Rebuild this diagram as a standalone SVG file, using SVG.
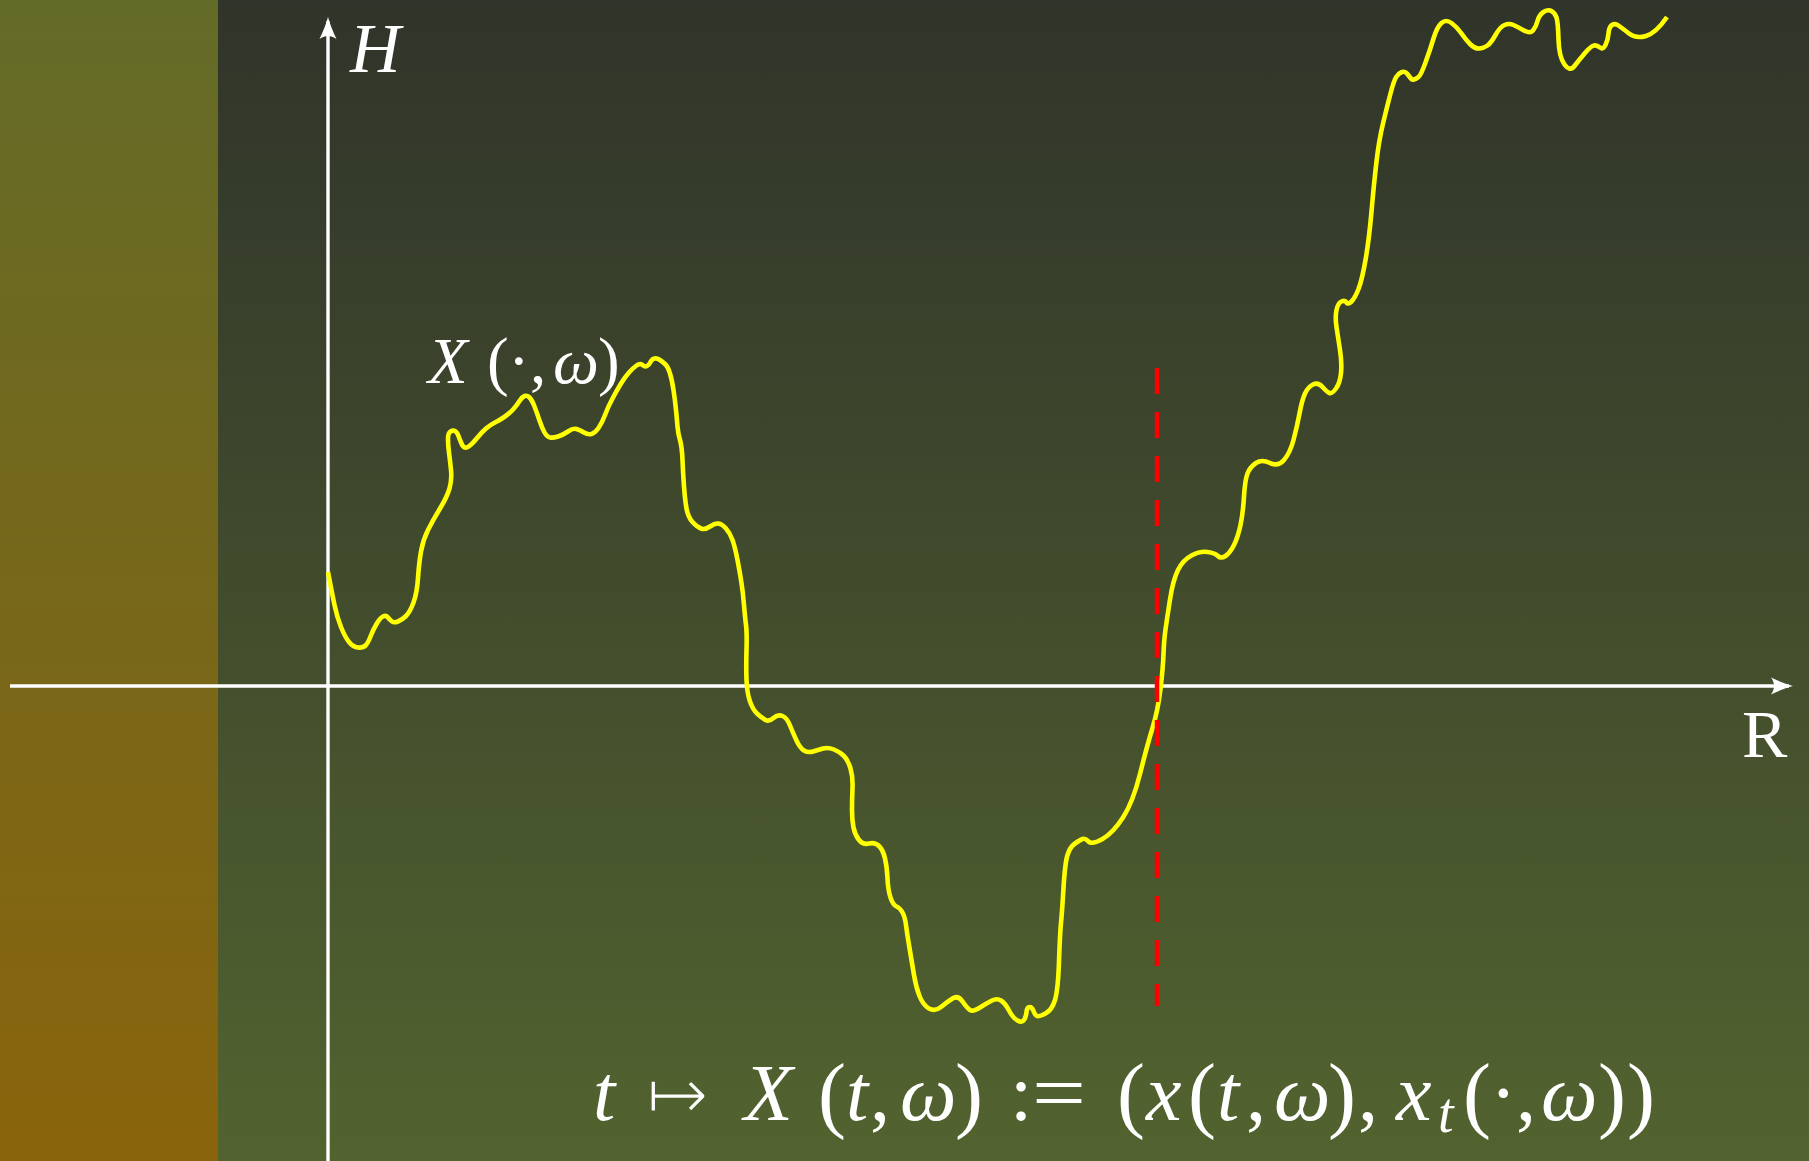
<svg xmlns="http://www.w3.org/2000/svg" width="1809" height="1161" viewBox="0 0 1809 1161">
<style>
.m{font-family:"Liberation Serif","DejaVu Serif",serif;fill:#ffffff}
.i{font-style:italic}
.ax{stroke:#ffffff;stroke-width:3.4;fill:none}
</style>
<defs>
<linearGradient id="bgMain" x1="0" y1="0" x2="0" y2="1">
<stop offset="0" stop-color="#30342a"/>
<stop offset="1" stop-color="#52632f"/>
</linearGradient>
<linearGradient id="bgBand" x1="0" y1="0" x2="0" y2="1">
<stop offset="0" stop-color="#636b28"/>
<stop offset="1" stop-color="#8a640c"/>
</linearGradient>
<marker id="arrow" markerUnits="userSpaceOnUse" viewBox="-24 -10 28 20" markerWidth="28" markerHeight="20" refX="-4" refY="0" orient="auto">
<path d="M0,0 C-7,-2 -15,-5 -22,-8.5 C-18,-3 -18,3 -22,8.5 C-15,5 -7,2 0,0 Z" fill="#ffffff"/>
</marker>
</defs>
<g id="background">
<rect x="0" y="0" width="1809" height="1161" fill="url(#bgMain)"/>
<rect x="0" y="0" width="218" height="1161" fill="url(#bgBand)"/>
</g>
<g id="axes">
<line class="ax" x1="10" y1="686" x2="1789" y2="686" marker-end="url(#arrow)"/>
<line class="ax" x1="328" y1="1161" x2="328" y2="21" marker-end="url(#arrow)"/>
</g>
<g id="path-curve">
<path fill="none" stroke="#ffff00" stroke-width="4.6" stroke-linejoin="round" stroke-linecap="butt" d="M328,572 L330,582.5 Q332,593 334.5,605 Q337,617 341,627 Q345,637 349,642 Q353,647 358,647.5 Q363,648 365.5,645.5 Q368,643 370.5,636.5 Q373,630 376.5,624 Q380,618 383,616.5 Q386,615 388,617.5 Q390,620 392,621.5 Q394,623 398,621.5 Q402,620 406,616 Q410,612 413.5,602.5 Q417,593 418,578 Q419,563 421,551.5 Q423,540 428,530 Q433,520 440,508.5 Q447,497 449.5,488.5 Q452,480 451,470 Q450,460 449,452.5 Q448,445 448,439 Q448,433 450.5,431.5 Q453,430 455,431 Q457,432 458.5,436 Q460,440 461.5,443.5 Q463,447 465,447.5 Q467,448 470,445.5 Q473,443 477.5,437.5 Q482,432 486,428.5 Q490,425 495,422.5 Q500,420 505,416.5 Q510,413 513.5,409 Q517,405 519.5,401 Q522,397 524.5,396 Q527,395 529.5,397.5 Q532,400 534.5,406.5 Q537,413 539.5,420.5 Q542,428 544.5,432.5 Q547,437 550,437.5 Q553,438 558,436.5 Q563,435 568,431.5 Q573,428 576.5,429 Q580,430 584,432.5 Q588,435 591.5,434 Q595,433 598.5,428 Q602,423 605,415 Q608,407 612.5,398.5 Q617,390 621,383.5 Q625,377 629,372.5 Q633,368 636.5,365.5 Q640,363 642.5,365 Q645,367 647,366 Q649,365 650.5,362 Q652,359 654.5,358.5 Q657,358 660,360 Q663,362 665.5,364.5 Q668,367 670,373.5 Q672,380 673.5,390 Q675,400 676,410 Q677,420 677.5,426.5 Q678,433 680,440 Q682,447 682.5,460 Q683,473 684,486.5 Q685,500 686.5,508.5 Q688,517 692.5,522 Q697,527 701,528.5 Q705,530 710,526.5 Q715,523 718.5,523.5 Q722,524 726,528.5 Q730,533 732.5,540 Q735,547 737.5,560 Q740,573 741.5,583 Q743,593 744,605 Q745,617 746,625 Q747,633 746.5,650 Q746,667 746.5,680 Q747,693 750,701.5 Q753,710 757.5,714 Q762,718 765.5,720 Q769,722 773.5,718 Q778,714 782.5,716 Q787,718 790,725.5 Q793,733 796.5,740.5 Q800,748 804,750.5 Q808,753 813,751.5 Q818,750 823,748.5 Q828,747 834,749.5 Q840,752 844,756 Q848,760 850.5,768.5 Q853,777 852.5,788.5 Q852,800 852,810 Q852,820 853.5,827.5 Q855,835 859,840 Q863,845 869,843.5 Q875,842 879,846 Q883,850 885,858.5 Q887,867 887.5,878.5 Q888,890 890.5,897.5 Q893,905 896.5,906.5 Q900,908 902.5,912.5 Q905,917 906,925 Q907,933 909.5,948 Q912,963 914,975 Q916,987 919.5,996 Q923,1005 929,1008.5 Q935,1012 941,1007 Q947,1002 952.5,998.5 Q958,995 962.5,1001.5 Q967,1008 970,1010 Q973,1012 980,1007.5 Q987,1003 992,1000.5 Q997,998 1001,1000.5 Q1005,1003 1009,1010.5 Q1013,1018 1017.5,1020.5 Q1022,1023 1024,1020 Q1026,1017 1026.5,1012 Q1027,1007 1029.5,1007 Q1032,1007 1033.5,1011 Q1035,1015 1037,1016 Q1039,1017 1045.5,1013.5 Q1052,1010 1055,1000 Q1058,990 1059,961.5 Q1060,933 1061,923 Q1062,913 1063.5,888 Q1065,863 1067.5,855 Q1070,847 1075,843.5 Q1080,840 1082.5,839 Q1085,838 1088.5,841.5 Q1092,845 1102.5,839 Q1113,833 1123,817.5 Q1133,802 1140,774 Q1147,746 1152.5,728 Q1158,710 1160.5,689 Q1163,668 1163.5,654 Q1164,640 1165.5,629.5 Q1167,619 1170,599.5 Q1173,580 1178,570 Q1183,560 1191.5,555.5 Q1200,551 1207.5,552 Q1215,553 1218,556 Q1221,559 1225.5,556 Q1230,553 1234,545 Q1238,537 1240.5,525 Q1243,513 1244,496.5 Q1245,480 1247.5,473.5 Q1250,467 1256,463 Q1262,459 1270,463 Q1278,467 1284,460 Q1290,453 1293.5,440 Q1297,427 1299.5,413.5 Q1302,400 1305,393.5 Q1308,387 1313,384.5 Q1318,382 1322.5,387 Q1327,392 1329.5,393 Q1332,394 1336,388.5 Q1340,383 1341,373 Q1342,363 1340,350 Q1338,337 1336.5,327 Q1335,317 1336.5,310 Q1338,303 1341.5,301.5 Q1345,300 1346.5,302.5 Q1348,305 1351.5,301.5 Q1355,298 1358.5,289 Q1362,280 1365.5,260 Q1369,240 1371.5,211.5 Q1374,183 1376.5,161.5 Q1379,140 1383,123.5 Q1387,107 1390.5,93.5 Q1394,80 1396.5,76.5 Q1399,73 1402,72 Q1405,71 1407,73.5 Q1409,76 1410.5,78 Q1412,80 1414,79.5 Q1416,79 1418.5,77 Q1421,75 1425.5,62.5 Q1430,50 1433.5,38.5 Q1437,27 1441.5,23 Q1446,19 1451.5,23 Q1457,27 1461.5,33.5 Q1466,40 1470.5,44.5 Q1475,49 1479.5,48.5 Q1484,48 1487.5,45.5 Q1491,43 1495.5,35 Q1500,27 1504.5,25 Q1509,23 1513.5,25 Q1518,27 1524,30.5 Q1530,34 1533,30.5 Q1536,27 1537.5,21 Q1539,15 1543.5,12 Q1548,9 1551.5,11 Q1555,13 1556.5,17.5 Q1558,22 1558.5,39.5 Q1559,57 1564.5,64.5 Q1570,72 1574.5,66 Q1579,60 1585,53 Q1591,46 1594,45.5 Q1597,45 1600,47.5 Q1603,50 1605.5,45 Q1608,40 1608.5,33.5 Q1609,27 1612,25 Q1615,23 1618.5,25.5 Q1622,28 1629,33.5 Q1636,39 1646,36 Q1656,33 1667,17"/>
</g>
<g id="marker-line">
<line x1="1157" y1="368" x2="1157" y2="1006" stroke="#ff0000" stroke-width="4.5" stroke-dasharray="26 18"/>
</g>
<g id="label-H">
<text class="m i" x="350" y="72" font-size="70">H</text>
</g>
<g id="label-R">
<text class="m" x="1742" y="757" font-size="68">R</text>
</g>
<g id="label-path">
<text class="m" y="383" font-size="65"><tspan class="i" x="428">X</tspan><tspan x="487">(</tspan><tspan x="508">·</tspan><tspan x="530">,</tspan><tspan class="i" x="553">ω</tspan><tspan x="598">)</tspan></text>
</g>
<g id="label-formula">
<text class="m" y="1120" font-size="80"><tspan class="i" x="593">t</tspan><tspan x="646" font-family="DejaVu Sans, sans-serif" font-size="76" stroke="#51612f" stroke-width="3">↦</tspan><tspan class="i" x="744">X</tspan><tspan x="818" font-size="84" dy="2">(</tspan><tspan class="i" x="846" dy="-2">t</tspan><tspan x="870">,</tspan><tspan class="i" x="900">ω</tspan><tspan x="955" font-size="84" dy="2">)</tspan><tspan x="1010" dy="-2">:</tspan><tspan x="1117" font-size="84" dy="2">(</tspan><tspan class="i" x="1146" dy="-2">x</tspan><tspan x="1188" font-size="84" dy="2">(</tspan><tspan class="i" x="1217" dy="-2">t</tspan><tspan x="1246">,</tspan><tspan class="i" x="1274">ω</tspan><tspan x="1328" font-size="84" dy="2">)</tspan><tspan x="1358" dy="-2">,</tspan><tspan class="i" x="1396">x</tspan><tspan class="i" x="1438" font-size="56" dy="12">t</tspan><tspan x="1463" font-size="84" dy="-10">(</tspan><tspan x="1490" dy="-2">·</tspan><tspan x="1516">,</tspan><tspan class="i" x="1541">ω</tspan><tspan x="1598" font-size="84" dy="2">)</tspan><tspan x="1627" font-size="84">)</tspan></text>
<text class="m" x="1032" y="1120" font-size="80" textLength="54" lengthAdjust="spacingAndGlyphs">=</text>
</g>
</svg>
